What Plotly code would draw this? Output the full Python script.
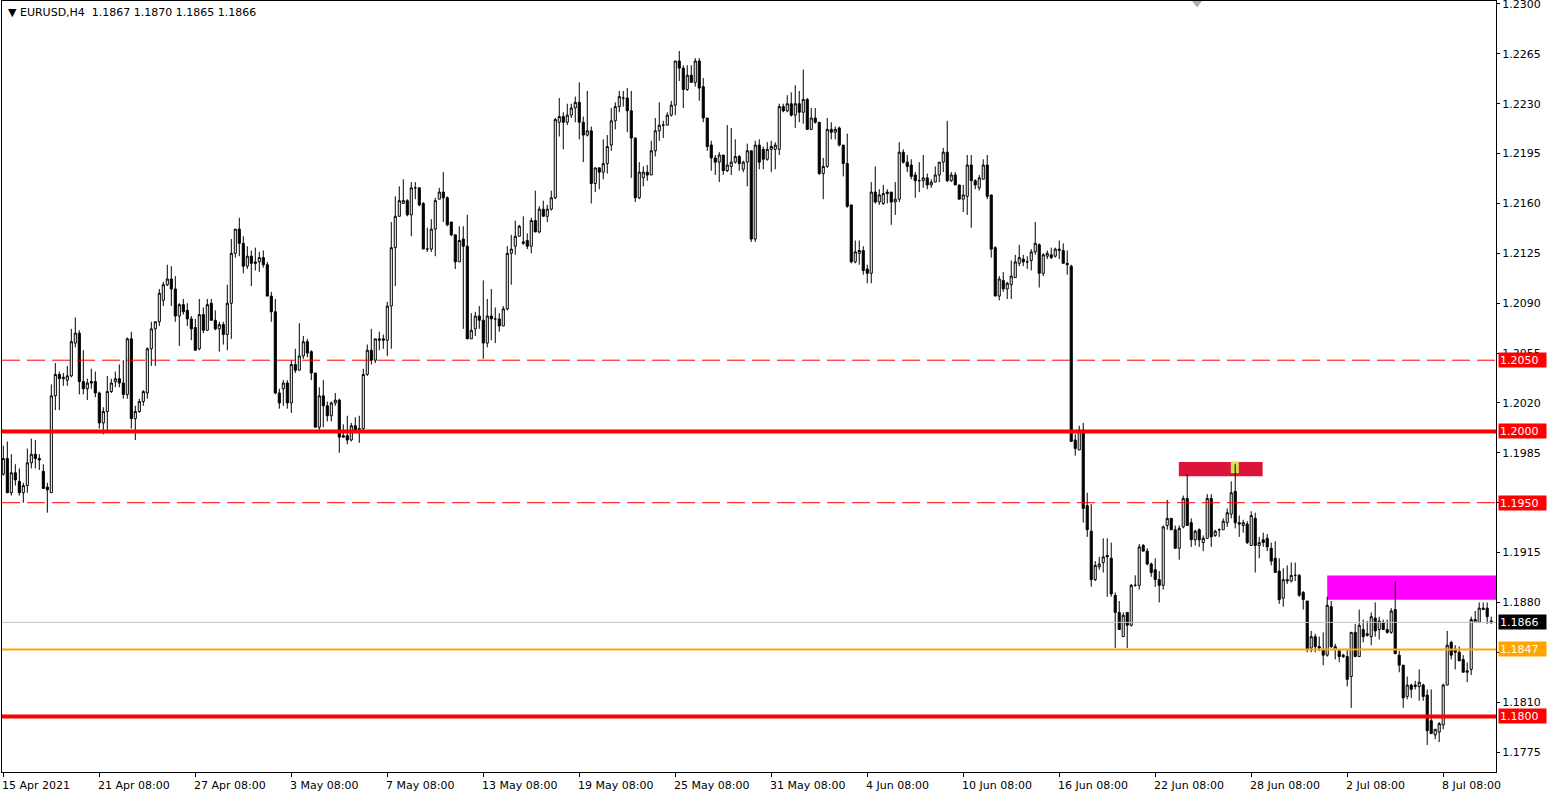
import plotly.graph_objects as go

# ---- candle data (EURUSD H4), prices in 1/10000 units ----
open_pips = [11970,11981,11957,11971,11965,11957,11962,11978,11984,11981,11972,11961,11957,12025,12040,12037,12036,12039,12062,12069,
12035,12030,12035,12035,12027,12006,12014,12028,12035,12037,12034,12026,12065,12009,12014,12021,12027,12058,12072,12077,
12092,12103,12107,12100,12081,12089,12085,12079,12073,12058,12082,12071,12090,12078,12072,12075,12068,12090,12125,12142,
12132,12116,12123,12119,12119,12122,12117,12095,12084,12027,12030,12034,12020,12047,12043,12053,12063,12056,12041,12003,
12025,12018,12011,12020,12022,11997,11997,11994,12004,12001,12002,12040,12057,12050,12064,12065,12064,12088,12129,12151,
12160,12162,12152,12171,12171,12160,12128,12128,12142,12163,12168,12164,12147,12138,12119,12135,12130,12065,12072,12081,
12078,12062,12081,12079,12079,12074,12086,12125,12130,12137,12132,12134,12130,12148,12140,12156,12151,12156,12164,12217,
12221,12217,12222,12227,12231,12217,12208,12211,12174,12185,12182,12188,12201,12218,12228,12234,12234,12225,12206,12164,
12178,12182,12180,12197,12211,12215,12215,12222,12229,12260,12255,12240,12250,12245,12260,12242,12220,12201,12192,12189,
12194,12183,12186,12189,12193,12184,12189,12197,12135,12201,12198,12191,12198,12198,12198,12228,12225,12230,12222,12230,
12224,12233,12212,12220,12217,12181,12186,12212,12210,12213,12201,12188,12159,12119,12125,12127,12114,12111,12168,12161,
12160,12168,12168,12161,12163,12196,12189,12187,12180,12176,12176,12178,12173,12175,12180,12189,12196,12176,12180,12173,
12163,12165,12187,12176,12171,12177,12187,12166,12129,12095,12106,12100,12103,12108,12118,12121,12119,12120,12126,12131,
12111,12123,12124,12123,12127,12127,12118,12116,11994,11987,12001,11948,11930,11896,11905,11908,11913,11911,11885,11873,
11856,11873,11864,11892,11892,11920,11916,11907,11903,11896,11892,11934,11939,11931,11918,11933,11953,11936,11924,11931,
11922,11925,11953,11927,11931,11931,11936,11942,11958,11936,11934,11935,11920,11939,11920,11924,11925,11918,11911,11902,
11883,11895,11895,11899,11899,11887,11881,11848,11856,11849,11847,11843,11877,11847,11846,11843,11842,11828,11859,11842,
11861,11858,11856,11869,11861,11866,11861,11859,11875,11843,11836,11814,11822,11821,11821,11822,11815,11797,11787,11789,
11794,11822,11852,11847,11845,11840,11831,11833,11866,11866,11875,11876,11867]
high_pips = [11990,11993,11984,11977,11974,11964,11988,11995,11994,11984,11977,11964,12033,12048,12042,12041,12046,12072,12080,12071,
12057,12037,12044,12042,12028,12017,12039,12037,12042,12047,12050,12066,12070,12018,12023,12029,12059,12077,12077,12100,
12105,12117,12116,12109,12090,12093,12090,12081,12079,12093,12087,12093,12093,12085,12077,12077,12103,12135,12142,12150,
12137,12130,12127,12129,12126,12127,12119,12098,12093,12030,12036,12036,12050,12058,12076,12067,12065,12057,12041,12031,
12036,12021,12021,12027,12023,12005,12011,12006,12010,12011,12044,12061,12072,12065,12070,12068,12091,12147,12165,12172,
12177,12163,12175,12175,12171,12161,12143,12149,12164,12171,12182,12165,12147,12138,12144,12144,12152,12083,12084,12088,
12106,12093,12100,12087,12083,12088,12130,12138,12148,12145,12151,12139,12150,12169,12158,12162,12159,12169,12220,12234,
12224,12230,12230,12235,12245,12221,12239,12214,12185,12185,12205,12208,12227,12231,12239,12239,12241,12239,12206,12189,
12186,12187,12204,12220,12231,12218,12224,12232,12260,12267,12257,12257,12257,12262,12262,12248,12220,12204,12194,12196,
12194,12215,12213,12205,12194,12190,12202,12197,12204,12205,12200,12203,12204,12203,12230,12230,12236,12238,12243,12239,
12254,12234,12227,12227,12217,12192,12220,12217,12214,12214,12201,12209,12159,12134,12134,12130,12117,12175,12186,12170,
12173,12170,12168,12175,12203,12198,12194,12191,12182,12189,12194,12181,12177,12186,12189,12199,12218,12182,12182,12173,
12173,12194,12194,12177,12180,12191,12194,12166,12130,12109,12112,12105,12120,12124,12131,12124,12123,12128,12147,12132,
12125,12127,12129,12129,12134,12132,12127,12117,11998,12004,12006,11957,11949,11909,11912,11925,11925,11922,11887,11881,
11873,11873,11893,11899,11921,11921,11918,11908,11911,11902,11934,11952,11939,11934,11934,11955,11970,11939,11931,11932,
11927,11956,11956,11931,11932,11939,11946,11965,11977,11941,11938,11937,11944,11943,11926,11929,11928,11922,11923,11911,
11904,11906,11908,11908,11900,11888,11881,11860,11858,11856,11859,11884,11881,11851,11847,11844,11847,11859,11865,11875,
11868,11867,11873,11880,11870,11868,11868,11876,11895,11846,11836,11828,11823,11825,11833,11823,11819,11819,11791,11796,
11823,11860,11853,11850,11849,11843,11838,11870,11874,11880,11880,11880,11870]
low_pips = [11969,11957,11955,11962,11955,11950,11957,11974,11974,11973,11960,11943,11957,12015,12015,12032,12032,12038,12059,12026,
12026,12022,12030,12024,12002,11998,12001,12027,12031,12031,12023,12023,12002,11994,12013,12018,12023,12046,12046,12074,
12088,12102,12088,12077,12060,12082,12074,12064,12057,12057,12069,12071,12078,12071,12056,12061,12057,12065,12122,12123,
12111,12114,12102,12113,12112,12115,12095,12077,12026,12016,12018,12016,12013,12041,12043,12051,12052,12036,12003,12001,
12003,12007,12007,12018,11985,11996,11991,11993,11999,11992,12001,12039,12047,12048,12057,12058,12053,12058,12102,12151,
12160,12151,12137,12163,12158,12128,12126,12126,12123,12163,12147,12144,12137,12114,12119,12072,12065,12065,12067,12072,
12051,12059,12064,12062,12070,12074,12085,12103,12124,12137,12131,12128,12125,12140,12139,12151,12147,12155,12163,12207,
12198,12215,12220,12217,12205,12189,12207,12160,12168,12170,12177,12181,12197,12212,12224,12228,12210,12178,12161,12163,
12172,12176,12180,12193,12204,12206,12215,12221,12222,12246,12227,12239,12245,12242,12232,12217,12197,12183,12180,12175,
12180,12182,12180,12188,12183,12182,12172,12133,12133,12184,12184,12190,12182,12184,12194,12224,12224,12221,12213,12217,
12216,12212,12212,12216,12180,12163,12185,12205,12205,12200,12179,12157,12118,12118,12117,12110,12104,12104,12160,12159,
12159,12160,12145,12152,12161,12188,12182,12177,12164,12168,12171,12170,12171,12175,12175,12182,12175,12175,12173,12163,
12154,12152,12143,12170,12169,12177,12163,12122,12095,12092,12098,12093,12093,12108,12116,12116,12114,12113,12124,12101,
12109,12121,12121,12122,12121,12118,12110,11993,11983,11987,11936,11926,11891,11895,11903,11901,11884,11884,11848,11861,
11856,11848,11863,11891,11889,11916,11906,11898,11891,11880,11889,11931,11931,11918,11910,11932,11934,11919,11920,11919,
11916,11925,11919,11926,11926,11931,11933,11939,11932,11926,11929,11921,11920,11901,11911,11919,11916,11906,11901,11879,
11877,11893,11894,11895,11884,11875,11845,11845,11845,11846,11836,11842,11848,11840,11838,11841,11821,11806,11842,11842,
11852,11856,11850,11856,11854,11861,11858,11858,11844,11831,11806,11812,11813,11819,11811,11811,11780,11788,11784,11782,
11791,11822,11840,11833,11839,11831,11824,11829,11866,11866,11875,11865,11865]
close_pips = [11981,11957,11971,11966,11957,11962,11978,11984,11981,11980,11960,11959,12025,12040,12037,12038,12039,12063,12069,12035,
12030,12034,12034,12027,12006,12014,12028,12034,12037,12034,12026,12065,12009,12014,12021,12028,12058,12072,12077,12097,
12103,12107,12100,12081,12089,12084,12079,12072,12057,12082,12071,12089,12078,12072,12075,12068,12090,12125,12142,12132,
12116,12123,12118,12118,12122,12117,12095,12084,12027,12020,12034,12020,12047,12043,12053,12063,12055,12041,12003,12025,
12018,12011,12020,12022,11996,11996,11994,12004,12001,12002,12040,12057,12050,12065,12065,12064,12088,12129,12151,12162,
12162,12152,12171,12171,12159,12128,12128,12142,12162,12168,12164,12145,12138,12119,12134,12130,12065,12071,12081,12078,
12062,12081,12079,12079,12074,12086,12125,12128,12137,12144,12133,12130,12148,12140,12156,12151,12156,12164,12219,12221,
12217,12222,12227,12231,12217,12208,12211,12174,12185,12182,12188,12200,12218,12228,12235,12234,12225,12206,12164,12182,
12182,12180,12197,12211,12215,12215,12222,12229,12260,12255,12240,12250,12245,12260,12241,12220,12200,12192,12189,12194,
12183,12187,12189,12193,12188,12189,12197,12135,12201,12189,12191,12198,12200,12201,12228,12225,12230,12222,12230,12224,
12233,12212,12220,12217,12181,12186,12212,12210,12212,12201,12188,12158,12119,12126,12127,12113,12111,12168,12161,12166,
12167,12167,12161,12163,12196,12189,12186,12179,12176,12176,12178,12173,12175,12180,12189,12196,12176,12180,12173,12163,
12166,12187,12176,12173,12178,12187,12165,12128,12095,12107,12100,12104,12109,12119,12122,12119,12119,12126,12132,12111,
12124,12125,12122,12128,12128,12118,12117,11993,11988,12001,11946,11931,11896,11906,11907,11912,11912,11886,11873,11861,
11871,11864,11892,11892,11919,11916,11907,11901,11896,11892,11933,11939,11931,11918,11932,11953,11934,11924,11930,11924,
11925,11953,11926,11930,11931,11937,11943,11957,11936,11935,11936,11922,11941,11920,11922,11922,11919,11909,11901,11882,
11896,11896,11899,11899,11885,11882,11847,11856,11849,11848,11843,11878,11849,11849,11842,11842,11826,11859,11842,11864,
11856,11857,11870,11860,11867,11861,11859,11874,11844,11836,11813,11822,11819,11822,11824,11814,11790,11788,11791,11795,
11822,11850,11843,11845,11839,11831,11832,11868,11868,11876,11876,11870,11866]

# time axis labels (every 24 bars)
tick_index = [0, 24, 48, 72, 96, 120, 144, 168, 192, 216, 240, 264, 288, 312, 336, 360]
tick_labels = ["15 Apr 2021", "21 Apr 08:00", "27 Apr 08:00", "3 May 08:00", "7 May 08:00",
               "13 May 08:00", "19 May 08:00", "25 May 08:00", "31 May 08:00", "4 Jun 08:00",
               "10 Jun 08:00", "16 Jun 08:00", "22 Jun 08:00", "28 Jun 08:00", "2 Jul 08:00",
               "8 Jul 08:00"]

# price axis ticks
price_ticks = [1.1775, 1.1810, 1.1845, 1.1880, 1.1915, 1.1950, 1.1985, 1.2020, 1.2055,
               1.2090, 1.2125, 1.2160, 1.2195, 1.2230, 1.2265, 1.2300]

# horizontal levels: (price, colour, width, dash, label background)
levels = [
    (1.2050, "#FF0000", 1, "18px,7px", "#FF0000"),
    (1.2000, "#FF0000", 4, "solid", "#FF0000"),
    (1.1950, "#FF0000", 1, "18px,7px", "#FF0000"),
    (1.1866, "#C0C0C0", 1, "solid", "#000000"),
    (1.1847, "#FFA500", 2, "solid", "#FFA500"),
    (1.1800, "#FF0000", 4, "solid", "#FF0000"),
]

# zones: (bar start, bar end, price top, price bottom, colour)
zones = [
    (293.9, 314.85, 1.19785, 1.19686, "#DC143C"),
    (306.9, 308.9, 1.19789, 1.19707, "#D8E04C"),
    (331.0, 373.5, 1.18989, 1.18819, "#FF00FF"),
]

title_text = "EURUSD,H4&nbsp;&nbsp;1.1867 1.1870 1.1865 1.1866"

n = len(close_pips)
x = list(range(n))
o = [v / 10000 for v in open_pips]
h = [v / 10000 for v in high_pips]
l = [v / 10000 for v in low_pips]
c = [v / 10000 for v in close_pips]

FONT = "DejaVu Sans"
FS = 11

fig = go.Figure()
fig.add_trace(go.Candlestick(
    x=x, open=o, high=h, low=l, close=c,
    increasing=dict(line=dict(color="#000000", width=1), fillcolor="#FFFFFF"),
    decreasing=dict(line=dict(color="#000000", width=1), fillcolor="#000000"),
    whiskerwidth=0, hoverinfo="skip", showlegend=False,
))

shapes = []
for x0, x1, ytop, ybot, col in zones:
    shapes.append(dict(type="rect", xref="x", yref="y", x0=x0, x1=x1, y0=ybot, y1=ytop,
                       fillcolor=col, line=dict(width=0), layer="below"))
for price, col, w, dash, bg in levels:
    shapes.append(dict(type="line", xref="paper", yref="y", x0=0, x1=1, y0=price, y1=price,
                       line=dict(color=col, width=w, dash=dash), layer="above"))
# chart-shift marker at top
shapes.append(dict(type="path", xref="x", yref="paper",
                   path="M 297.2,1.0 L 299.7,1.0 L 298.45,0.9915 Z",
                   fillcolor="#B0B0B0", line=dict(width=0), layer="above"))

annotations = []
for price, col, w, dash, bg in levels:
    annotations.append(dict(xref="paper", yref="y", x=1, y=price, xanchor="left", yanchor="middle",
                            xshift=2, text=f"{price:.4f}", showarrow=False, bgcolor=bg,
                            font=dict(family=FONT, size=FS, color="#FFFFFF"),
                            width=45, height=12, borderpad=1, align="left"))
for idx, lab in zip(tick_index, tick_labels):
    annotations.append(dict(xref="x", yref="paper", x=idx, y=0, xanchor="left", yanchor="middle",
                            xshift=-3, yshift=-13, text=lab, showarrow=False,
                            font=dict(family=FONT, size=FS, color="#000000")))
annotations.append(dict(xref="paper", yref="paper", x=0, y=1, xanchor="left", yanchor="top",
                        xshift=4, yshift=-3, text="\u25BC " + title_text, showarrow=False,
                        font=dict(family=FONT, size=FS, color="#000000")))

fig.update_layout(
    width=1554, height=795,
    margin=dict(l=2, r=58, t=1, b=23, autoexpand=False),
    paper_bgcolor="#FFFFFF", plot_bgcolor="#FFFFFF",
    boxgap=0.25,
    shapes=shapes, annotations=annotations,
    showlegend=False,
    xaxis=dict(range=[-0.33, 373.2], rangeslider=dict(visible=False), showgrid=False, zeroline=False,
               tickvals=tick_index, ticktext=[""] * len(tick_index), ticks="outside", ticklen=4,
               tickcolor="#000000", showline=True, linecolor="#000000", linewidth=1, mirror=True,
               automargin=False),
    yaxis=dict(side="right", range=[1.17610, 1.23021], showgrid=False, zeroline=False,
               tickvals=price_ticks, ticktext=[f"{p:.4f}" for p in price_ticks],
               ticks="outside", ticklen=3, tickcolor="#000000",
               tickfont=dict(family=FONT, size=FS, color="#000000"),
               ticklabeloverflow="allow",
               showline=True, linecolor="#000000", linewidth=1, mirror=True, automargin=False),
    font=dict(family=FONT, size=FS, color="#000000"),
)

fig.write_html("out.html",
               config={"displayModeBar": False},
               post_script="document.body.style.margin='0px';document.body.style.padding='0px';"
                           "document.body.style.overflow='hidden';")
